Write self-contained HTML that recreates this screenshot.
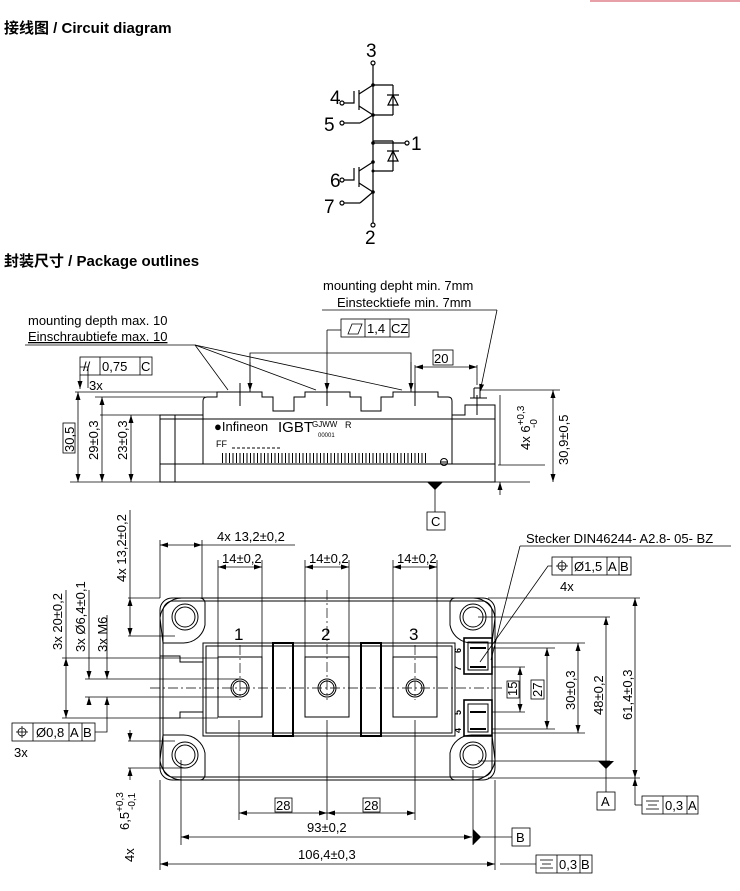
<!DOCTYPE html>
<html><head><meta charset="utf-8"><style>
body{margin:0;background:#fff;width:740px;height:891px;overflow:hidden}
svg{display:block}
text{font-family:"Liberation Sans","Noto Sans CJK SC",sans-serif;fill:#000}
</style></head><body>
<svg width="740" height="891" viewBox="0 0 740 891" xmlns="http://www.w3.org/2000/svg">
<defs>
<marker id="a" markerWidth="8" markerHeight="6" refX="8" refY="3" orient="auto-start-reverse" markerUnits="userSpaceOnUse"><path d="M0,0.5 L8,3 L0,5.5z" fill="#000"/></marker>
</defs>
<line x1="590" y1="1" x2="740" y2="1" stroke="#e8a0a8" stroke-width="2"/>
<text x="4" y="33" font-size="15" font-weight="bold">接线图 / Circuit diagram</text>
<text x="4" y="266" font-size="15" font-weight="bold">封装尺寸 / Package outlines</text>

<!-- circuit -->
<g stroke="#000" stroke-width="1.2" fill="none">
<circle cx="373" cy="63" r="2"/><circle cx="373" cy="225" r="2"/>
<line x1="373" y1="65" x2="373" y2="223"/>
<line x1="373" y1="85" x2="393" y2="85"/><line x1="393" y1="85" x2="393" y2="115"/><line x1="373" y1="115" x2="393" y2="115"/>
<line x1="373" y1="141" x2="393" y2="141"/><line x1="393" y1="141" x2="393" y2="171"/><line x1="373" y1="171" x2="393" y2="171"/>
<path d="M387,95 h12 M388,105 h10 l-5,-10z"/>
<path d="M387,151 h12 M388,161 h10 l-5,-10z"/>
<line x1="373" y1="143" x2="405" y2="143"/><circle cx="407" cy="143" r="2"/>
<line x1="359" y1="90" x2="359" y2="110"/><line x1="359" y1="94" x2="373" y2="85"/><line x1="359" y1="106" x2="373" y2="115"/>
<path d="M354,91 v12 h-10"/><circle cx="342" cy="103" r="2"/>
<line x1="344" y1="123" x2="360" y2="123"/><line x1="360" y1="123" x2="373" y2="115"/><circle cx="342" cy="123" r="2"/>
<line x1="359" y1="167" x2="359" y2="187"/><line x1="359" y1="171" x2="373" y2="162"/><line x1="359" y1="183" x2="373" y2="192"/>
<path d="M354,168 v12 h-10"/><circle cx="342" cy="180" r="2"/>
<line x1="344" y1="203" x2="360" y2="203"/><line x1="360" y1="203" x2="373" y2="192"/><circle cx="342" cy="203" r="2"/>
</g>
<g fill="#000"><circle cx="373" cy="85" r="1.8"/><circle cx="373" cy="115" r="1.8"/><circle cx="373" cy="143" r="1.8"/><circle cx="373" cy="162" r="1.8"/><circle cx="373" cy="192" r="1.8"/><circle cx="373" cy="171" r="1.5"/></g>
<g font-size="19"><text x="366" y="57">3</text><text x="330" y="104">4</text><text x="324" y="131">5</text><text x="411" y="150">1</text><text x="330" y="187">6</text><text x="324" y="213">7</text><text x="365" y="244">2</text></g>

<!-- side view -->
<g stroke="#000" stroke-width="1" fill="none">
<path d="M160,482 V415 H203 V401 Q203,397 207,397 H217 V392 H262 V397 H273 V411 H294 V397 H305 V392 H350 V397 H361 V411 H381 V397 H393 V392 H438 V397 H448 Q452,397 452,401 V415 H465 V405 H495 V482 Z"/>
<line x1="160" y1="464" x2="495" y2="464"/><line x1="175" y1="415" x2="175" y2="482"/>
<line x1="203" y1="415" x2="203" y2="464"/><line x1="452" y1="415" x2="452" y2="464"/>
<line x1="160" y1="419" x2="495" y2="419"/>
<line x1="477" y1="395" x2="477" y2="415"/><line x1="470" y1="398" x2="487" y2="398"/>
<line x1="474" y1="388" x2="480" y2="388"/><line x1="474" y1="388" x2="474" y2="398"/><line x1="480" y1="388" x2="480" y2="398"/>
<line x1="240" y1="383" x2="240" y2="406"/><line x1="327" y1="383" x2="327" y2="406"/><line x1="415" y1="383" x2="415" y2="406"/>
<circle cx="444" cy="462" r="3.5"/><line x1="440" y1="462" x2="448" y2="462"/>
</g>
<g stroke="#000"><path d="M222,458 h206" stroke-dasharray="1 2.5" stroke-width="10"/></g>
<text x="214" y="431" font-size="13">●Infineon</text><text x="278" y="432" font-size="15" font-family="Liberation Mono">IGBT</text>
<text x="312" y="427" font-size="8">GJWW</text><text x="318" y="437" font-size="6">00001</text><text x="345" y="428" font-size="9">R</text>
<text x="216" y="447" font-size="9">FF</text><line x1="232" y1="448" x2="281" y2="448" stroke="#000" stroke-dasharray="3 2"/>
<!-- side dims -->
<g stroke="#000" stroke-width="0.8" fill="none">
<line x1="70" y1="482" x2="530" y2="482"/>
<line x1="75" y1="392" x2="217" y2="392"/><line x1="95" y1="397" x2="205" y2="397"/><line x1="100" y1="415" x2="160" y2="415"/>
<line x1="78" y1="392" x2="78" y2="482" marker-start="url(#a)" marker-end="url(#a)"/>
<line x1="102" y1="397" x2="102" y2="482" marker-start="url(#a)" marker-end="url(#a)"/>
<line x1="131" y1="415" x2="131" y2="482" marker-start="url(#a)" marker-end="url(#a)"/>
<path d="M88,388 V367 H80" /><rect x="80" y="357" width="72" height="18"/><line x1="100" y1="357" x2="100" y2="375"/><line x1="140" y1="357" x2="140" y2="375"/>
<line x1="80" y1="375" x2="80" y2="389" marker-end="url(#a)"/>
<line x1="25" y1="345" x2="195" y2="345"/>
<line x1="195" y1="345" x2="228" y2="390"/><line x1="195" y1="345" x2="316" y2="390"/><line x1="195" y1="345" x2="402" y2="390"/>
<path d="M250,392 V353 H411 V392"/><line x1="250" y1="362" x2="250" y2="391" marker-end="url(#a)"/><line x1="411" y1="362" x2="411" y2="391" marker-end="url(#a)"/>
<line x1="327" y1="330" x2="327" y2="391" marker-end="url(#a)"/><line x1="327" y1="330" x2="341" y2="330"/>
<rect x="341" y="319" width="68" height="18"/><line x1="365" y1="319" x2="365" y2="337"/><line x1="390" y1="319" x2="390" y2="337"/>
<path d="M348,334 l4,-10 h10 l-4,10z"/>
<line x1="415" y1="365" x2="415" y2="385"/><line x1="477" y1="365" x2="477" y2="385"/>
<line x1="415" y1="367" x2="477" y2="367" marker-start="url(#a)" marker-end="url(#a)"/>
<rect x="433" y="350" width="20" height="15"/>
<line x1="322" y1="310" x2="497" y2="310"/><line x1="497" y1="310" x2="480" y2="392" marker-end="url(#a)"/>
<line x1="480" y1="390" x2="560" y2="390"/><line x1="498" y1="465" x2="545" y2="465"/>
<line x1="553" y1="390" x2="553" y2="482" marker-start="url(#a)" marker-end="url(#a)"/>
<line x1="500" y1="395" x2="500" y2="465"/><line x1="500" y1="482" x2="500" y2="495" marker-start="url(#a)"/>
<line x1="435" y1="482" x2="435" y2="512"/><rect x="427" y="512" width="18" height="18"/>
</g>
<path d="M427,482 h16 l-8,8z" fill="#000"/>
<g font-size="13">
<text x="28" y="325">mounting depth max. 10</text><text x="28" y="341" text-decoration="underline">Einschraubtiefe max. 10</text>
<text x="323" y="290">mounting depht min. 7mm</text><text x="337" y="307">Einstecktiefe min. 7mm</text>
<text x="83" y="371">//</text><text x="102" y="371">0,75</text><text x="141" y="371">C</text>
<text x="89" y="390">3x</text>
<text x="367" y="333">1,4</text><text x="391" y="333">CZ</text>
<text x="434" y="363">20</text><text x="431" y="526">C</text>
<text transform="translate(74,452) rotate(-90)">30,5</text>
<text transform="translate(98,460) rotate(-90)">29±0,3</text>
<text transform="translate(127,460) rotate(-90)">23±0,3</text>
<text transform="translate(568,465) rotate(-90)">30,9±0,5</text>
<text transform="translate(530,450) rotate(-90)">4x 6<tspan font-size="10" dy="-6">+0,3</tspan></text>
<text transform="translate(537,428) rotate(-90)" font-size="10">-0</text>
</g>
<rect x="63" y="423" width="12" height="30" fill="none" stroke="#000" stroke-width="0.8"/>

<!-- top view -->
<g stroke="#000" stroke-width="1" fill="none">
<rect x="160" y="598" width="335" height="182" rx="12"/>
<rect x="163" y="601" width="329" height="176" rx="10"/>
<path d="M160,656 H180 V662 H203 M160,718 H180 V712 H203"/>
<rect x="203" y="643" width="252" height="93"/><rect x="206" y="646" width="246" height="87"/>
<rect x="218" y="657" width="44" height="60"/><rect x="305" y="657" width="44" height="60"/><rect x="393" y="657" width="44" height="60"/>
<rect x="273" y="643" width="20" height="93" stroke-width="2"/><rect x="361" y="643" width="20" height="93" stroke-width="2"/>
<circle cx="240" cy="688" r="9"/><circle cx="240" cy="688" r="7"/>
<circle cx="327" cy="688" r="9"/><circle cx="327" cy="688" r="7"/>
<circle cx="415" cy="688" r="9"/><circle cx="415" cy="688" r="7"/>
<path d="M160,618 a22,22 0 0 1 22,-20 h18 a5,5 0 0 1 5,5 v22 a22,22 0 0 1 -22,18 h-20z"/>
<path d="M160,760 a22,22 0 0 0 22,20 h18 a5,5 0 0 0 5,-5 v-22 a22,22 0 0 0 -22,-18 h-20z"/>
<path d="M495,618 a22,22 0 0 0 -22,-20 h-18 a5,5 0 0 0 -5,5 v22 a22,22 0 0 0 22,18 h20z"/>
<path d="M495,760 a22,22 0 0 1 -22,20 h-18 a5,5 0 0 1 -5,-5 v-22 a22,22 0 0 1 22,-18 h20z"/>
<circle cx="185" cy="617" r="13"/><circle cx="185" cy="617" r="10"/>
<circle cx="185" cy="755" r="13"/><circle cx="185" cy="755" r="10"/>
<circle cx="473" cy="617" r="13"/><circle cx="473" cy="617" r="10"/>
<circle cx="473" cy="755" r="13"/><circle cx="473" cy="755" r="10"/>
<rect x="464" y="638" width="28" height="36" stroke-width="1.6"/><rect x="468" y="642" width="20" height="28"/>
<rect x="464" y="700" width="28" height="36" stroke-width="1.6"/><rect x="468" y="704" width="20" height="28"/>
<line x1="470" y1="648" x2="486" y2="648" stroke-width="2"/><line x1="470" y1="667" x2="486" y2="667" stroke-width="2"/>
<line x1="470" y1="712" x2="486" y2="712" stroke-width="2"/><line x1="470" y1="729" x2="486" y2="729" stroke-width="2"/>
</g>
<g stroke="#000" stroke-width="0.7" fill="none" stroke-dasharray="10 3 2 3">
<line x1="150" y1="688" x2="505" y2="688"/>
<line x1="240" y1="645" x2="240" y2="700"/><line x1="327" y1="590" x2="327" y2="700"/><line x1="415" y1="645" x2="415" y2="700"/>
</g>
<g font-size="17"><text x="234" y="640">1</text><text x="321" y="640">2</text><text x="409" y="640">3</text></g>
<g font-size="9" font-weight="bold"><text transform="translate(461,653) rotate(-90)">6</text><text transform="translate(461,671) rotate(-90)">7</text><text transform="translate(461,715) rotate(-90)">5</text><text transform="translate(461,733) rotate(-90)">4</text></g>

<!-- top view dims -->
<g stroke="#000" stroke-width="0.8" fill="none">
<line x1="160" y1="540" x2="160" y2="598"/><line x1="202" y1="540" x2="202" y2="598"/>
<line x1="160" y1="545" x2="202" y2="545" marker-start="url(#a)" marker-end="url(#a)"/><line x1="202" y1="545" x2="295" y2="545"/>
<line x1="218" y1="560" x2="218" y2="657"/><line x1="262" y1="560" x2="262" y2="657"/><line x1="218" y1="567" x2="262" y2="567" marker-start="url(#a)" marker-end="url(#a)"/>
<line x1="305" y1="560" x2="305" y2="657"/><line x1="349" y1="560" x2="349" y2="657"/><line x1="305" y1="567" x2="349" y2="567" marker-start="url(#a)" marker-end="url(#a)"/>
<line x1="393" y1="560" x2="393" y2="657"/><line x1="437" y1="560" x2="437" y2="657"/><line x1="393" y1="567" x2="437" y2="567" marker-start="url(#a)" marker-end="url(#a)"/>
<line x1="128" y1="598" x2="160" y2="598"/><line x1="128" y1="636" x2="175" y2="636"/>
<line x1="130" y1="598" x2="130" y2="636" marker-start="url(#a)" marker-end="url(#a)"/><line x1="130" y1="510" x2="130" y2="598"/>
<line x1="62" y1="658" x2="218" y2="658"/><line x1="62" y1="718" x2="218" y2="718"/>
<line x1="66" y1="658" x2="66" y2="718" marker-start="url(#a)" marker-end="url(#a)"/><line x1="66" y1="590" x2="66" y2="658"/>
<line x1="85" y1="679" x2="240" y2="679"/><line x1="85" y1="697" x2="240" y2="697"/>
<line x1="89" y1="672" x2="89" y2="679" marker-end="url(#a)"/><line x1="89" y1="704" x2="89" y2="697" marker-end="url(#a)"/><line x1="89" y1="590" x2="89" y2="672"/>
<line x1="107" y1="672" x2="107" y2="679" marker-end="url(#a)"/><line x1="107" y1="720" x2="107" y2="697" marker-end="url(#a)"/><line x1="107" y1="615" x2="107" y2="672"/>
<path d="M107,720 V732 H95"/><rect x="12" y="723" width="83" height="18"/>
<line x1="33" y1="723" x2="33" y2="741"/><line x1="69" y1="723" x2="69" y2="741"/><line x1="82" y1="723" x2="82" y2="741"/>
<circle cx="22" cy="732" r="4"/><line x1="16" y1="732" x2="28" y2="732"/><line x1="22" y1="726" x2="22" y2="738"/>
<line x1="128" y1="741" x2="175" y2="741"/><line x1="128" y1="768" x2="185" y2="768"/>
<line x1="130" y1="730" x2="130" y2="741" marker-end="url(#a)"/><line x1="130" y1="780" x2="130" y2="768" marker-end="url(#a)"/>
<line x1="181" y1="760" x2="181" y2="845"/><line x1="160" y1="780" x2="160" y2="870"/><line x1="495" y1="780" x2="495" y2="870"/>
<line x1="239" y1="720" x2="239" y2="820"/><line x1="327" y1="720" x2="327" y2="820"/><line x1="415" y1="720" x2="415" y2="820"/>
<line x1="239" y1="813" x2="327" y2="813" marker-start="url(#a)" marker-end="url(#a)"/><line x1="327" y1="813" x2="415" y2="813" marker-start="url(#a)" marker-end="url(#a)"/>
<rect x="275" y="798" width="17" height="14"/><rect x="363" y="798" width="17" height="14"/>
<line x1="181" y1="837" x2="472" y2="837" marker-start="url(#a)" marker-end="url(#a)"/>
<line x1="473" y1="770" x2="473" y2="845"/><line x1="473" y1="837" x2="512" y2="837"/><rect x="512" y="828" width="18" height="18"/>
<line x1="160" y1="864" x2="495" y2="864" marker-start="url(#a)" marker-end="url(#a)"/><line x1="500" y1="864" x2="536" y2="864"/>
<rect x="536" y="855" width="56" height="18"/><line x1="557" y1="855" x2="557" y2="873"/><line x1="580" y1="855" x2="580" y2="873"/>
<line x1="540" y1="860" x2="553" y2="860"/><line x1="542" y1="864" x2="551" y2="864"/><line x1="540" y1="868" x2="553" y2="868"/>
<line x1="488" y1="598" x2="640" y2="598"/><line x1="488" y1="778" x2="640" y2="778"/>
<line x1="635" y1="598" x2="635" y2="778" marker-start="url(#a)" marker-end="url(#a)"/>
<line x1="478" y1="617" x2="610" y2="617"/><line x1="478" y1="761" x2="610" y2="761"/>
<line x1="606" y1="617" x2="606" y2="760" marker-start="url(#a)"/><line x1="606" y1="760" x2="606" y2="792"/><rect x="597" y="792" width="18" height="18"/>
<line x1="492" y1="643" x2="585" y2="643"/><line x1="492" y1="733" x2="585" y2="733"/>
<line x1="578" y1="643" x2="578" y2="733" marker-start="url(#a)" marker-end="url(#a)"/>
<line x1="492" y1="648" x2="555" y2="648"/><line x1="492" y1="729" x2="555" y2="729"/>
<line x1="547" y1="648" x2="547" y2="729" marker-start="url(#a)" marker-end="url(#a)"/>
<line x1="492" y1="667" x2="525" y2="667"/><line x1="492" y1="712" x2="525" y2="712"/>
<line x1="520" y1="667" x2="520" y2="712" marker-start="url(#a)" marker-end="url(#a)"/>
<rect x="507" y="681" width="12" height="17"/><rect x="531" y="680" width="13" height="19"/>
<line x1="635" y1="778" x2="635" y2="805" marker-start="url(#a)"/><line x1="635" y1="805" x2="642" y2="805"/>
<rect x="642" y="796" width="56" height="18"/><line x1="663" y1="796" x2="663" y2="814"/><line x1="687" y1="796" x2="687" y2="814"/>
<line x1="646" y1="801" x2="659" y2="801"/><line x1="648" y1="805" x2="657" y2="805"/><line x1="646" y1="809" x2="659" y2="809"/>
<line x1="520" y1="546" x2="731" y2="546"/><line x1="520" y1="546" x2="491" y2="660"/>
<path d="M552,566 H548 L480,662" /><rect x="552" y="557" width="79" height="18"/>
<line x1="572" y1="557" x2="572" y2="575"/><line x1="607" y1="557" x2="607" y2="575"/><line x1="619" y1="557" x2="619" y2="575"/>
<circle cx="562" cy="566" r="4"/><line x1="556" y1="566" x2="568" y2="566"/><line x1="562" y1="560" x2="562" y2="572"/>
</g>
<path d="M598,761 h16 l-8,8z M473,829 v16 l8,-8z" fill="#000"/>
<g font-size="13">
<text x="217" y="541">4x  13,2±0,2</text>
<text x="222" y="563">14±0,2</text><text x="309" y="563">14±0,2</text><text x="397" y="563">14±0,2</text>
<text transform="translate(126,582) rotate(-90)">4x  13,2±0,2</text>
<text transform="translate(62,650) rotate(-90)">3x  20±0,2</text>
<text transform="translate(85,652) rotate(-90)">3x  Ø6,4±0,1</text>
<text transform="translate(107,652) rotate(-90)">3x  M6</text>
<text x="36" y="737">Ø0,8</text><text x="70" y="737">A</text><text x="83" y="737">B</text>
<text x="14" y="757">3x</text>
<text transform="translate(129,830) rotate(-90)">6,5<tspan font-size="10" dy="-6">+0,3</tspan></text>
<text transform="translate(135,810) rotate(-90)" font-size="10">-0,1</text>
<text transform="translate(134,862) rotate(-90)">4x</text>
<text x="276" y="810">28</text><text x="364" y="810">28</text>
<text x="307" y="832">93±0,2</text><text x="298" y="859">106,4±0,3</text>
<text x="516" y="842">B</text><text x="559" y="869">0,3</text><text x="581" y="869">B</text>
<text x="526" y="543">Stecker  DIN46244- A2.8- 05- BZ</text>
<text x="574" y="571">Ø1,5</text><text x="608" y="571">A</text><text x="620" y="571">B</text>
<text x="560" y="591">4x</text>
<text transform="translate(517,696) rotate(-90)">15</text><text transform="translate(542,697) rotate(-90)">27</text>
<text transform="translate(575,710) rotate(-90)">30±0,3</text>
<text transform="translate(603,715) rotate(-90)">48±0,2</text>
<text transform="translate(632,720) rotate(-90)">61,4±0,3</text>
<text x="601" y="806">A</text><text x="665" y="810">0,3</text><text x="688" y="810">A</text>
</g>
</svg>
</body></html>
